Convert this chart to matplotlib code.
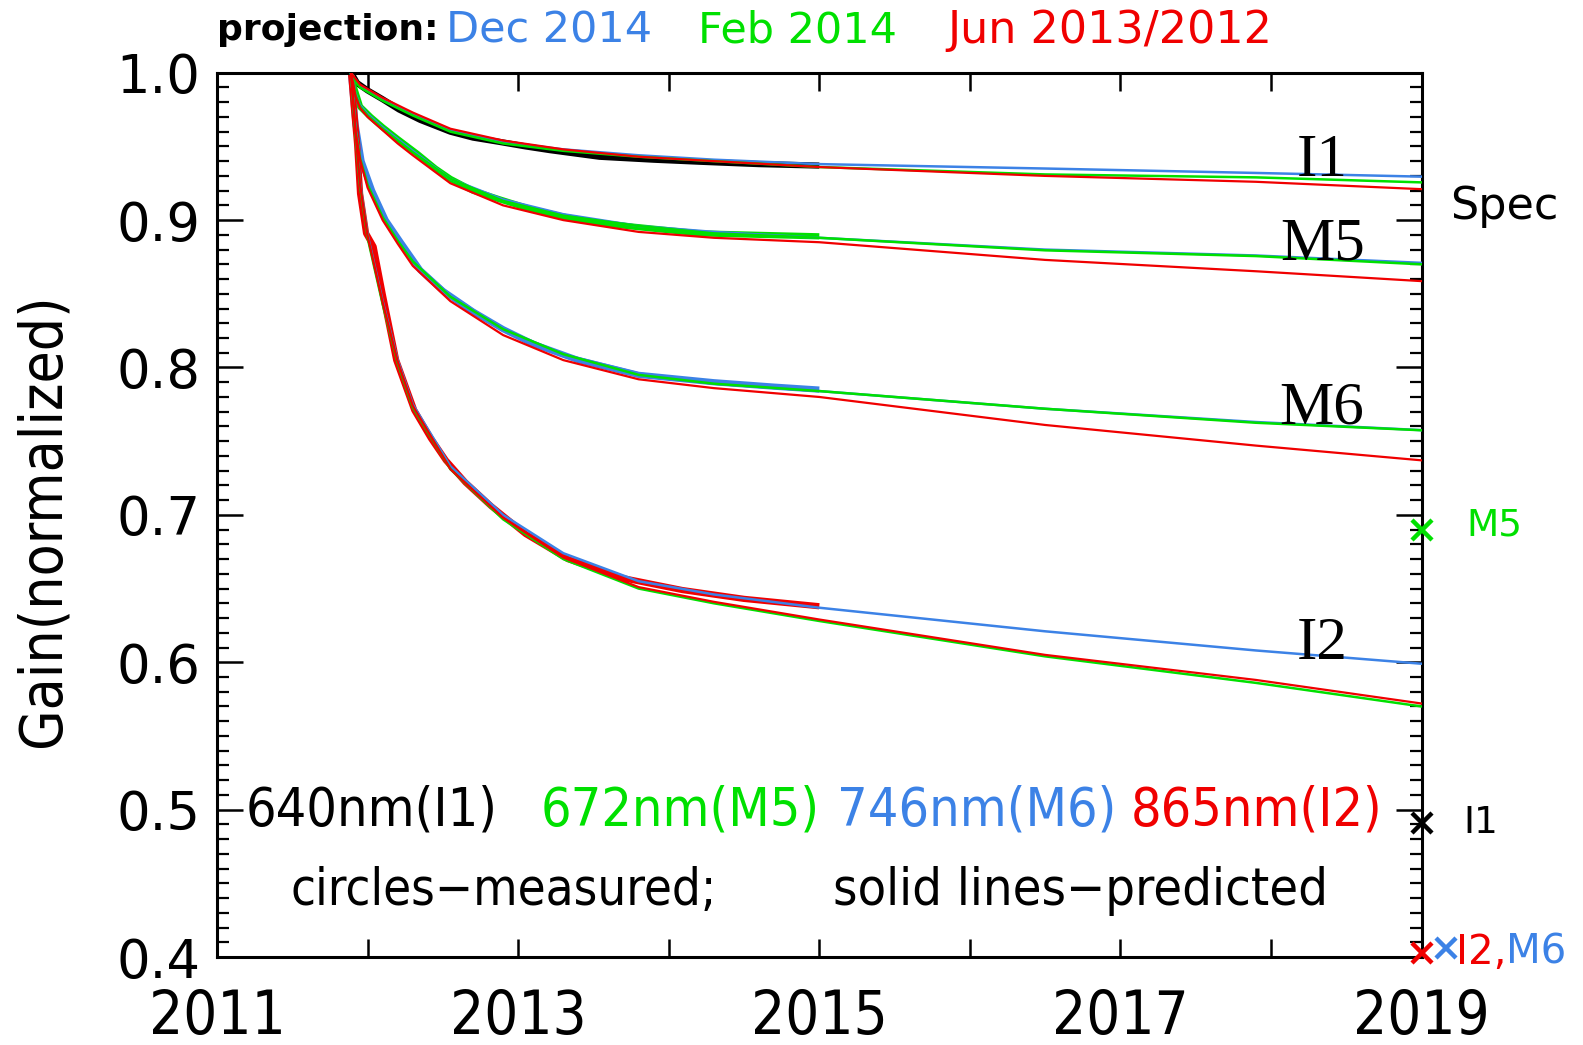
#!/usr/bin/env python3

import matplotlib

matplotlib.use("Agg")
import matplotlib.pyplot as plt
from matplotlib.ticker import MultipleLocator

BLUE = "#3c82e6"
GREEN = "#00e000"
RED = "#f00000"
BLACK = "#000000"

# measured gains (circles), one band at a time
I1_MEAS_YEARS = [2011.89, 2011.93, 2012.0, 2012.1, 2012.21, 2012.35, 2012.55, 2012.7,
                 2012.88, 2013.05, 2013.21, 2013.54, 2013.9, 2014.21, 2014.6, 2015.0]
I1_MEAS = [1.0, 0.993, 0.988, 0.982, 0.975, 0.968, 0.960, 0.956,
           0.953, 0.950, 0.9475, 0.943, 0.941, 0.9396, 0.938, 0.937]

M5_MEAS_YEARS = [2011.89, 2011.91, 2011.95, 2012.02, 2012.1, 2012.2, 2012.33, 2012.45, 2012.55,
                 2012.7, 2012.88, 2013.1, 2013.32, 2013.55, 2013.77, 2014.21, 2014.6, 2015.0]
M5_MEAS = [1.0, 0.990, 0.977, 0.970, 0.963, 0.955, 0.945, 0.935, 0.928,
           0.920, 0.914, 0.907, 0.902, 0.898, 0.8955, 0.891, 0.890, 0.889]

M6_MEAS_YEARS = [2011.89, 2011.92, 2011.96, 2012.03, 2012.12, 2012.22, 2012.35, 2012.5,
                 2012.7, 2012.9, 2013.1, 2013.4, 2013.8, 2014.3, 2014.7, 2015.0]
M6_MEAS = [1.0, 0.965, 0.940, 0.920, 0.900, 0.885, 0.866, 0.852,
           0.838, 0.826, 0.816, 0.805, 0.795, 0.790, 0.787, 0.785]

I2_MEAS_YEARS = [2011.89, 2011.91, 2011.93, 2011.95, 2011.99, 2012.04, 2012.10, 2012.19, 2012.31,
                 2012.42, 2012.52, 2012.65, 2012.82, 2013.05, 2013.33, 2013.7, 2014.09, 2014.5, 2015.0]
I2_MEAS = [1.0, 0.975, 0.952, 0.918, 0.891, 0.882, 0.850, 0.805, 0.771,
           0.752, 0.737, 0.722, 0.706, 0.687, 0.670, 0.657, 0.649, 0.643, 0.638]

# predicted gains for the three projections (Dec 2014, Feb 2014, Jun 2013/2012)
PRED_YEARS = [2011.89, 2011.92, 2011.95, 2012.0, 2012.1, 2012.2, 2012.3, 2012.55,
              2012.9, 2013.3, 2013.8, 2014.3, 2015.0, 2016.5, 2017.9, 2019.0]

I1_BLUE = [1.0, 0.995, 0.991, 0.988, 0.982, 0.977, 0.972, 0.961, 0.953, 0.948, 0.944, 0.941, 0.938, 0.935, 0.932, 0.9295]
I1_GREEN = [1.0, 0.994, 0.990, 0.987, 0.981, 0.976, 0.971, 0.960, 0.952, 0.947, 0.943, 0.940, 0.936, 0.931, 0.929, 0.9256]
I1_RED = [1.0, 0.996, 0.992, 0.989, 0.983, 0.978, 0.973, 0.962, 0.954, 0.948, 0.943, 0.940, 0.936, 0.930, 0.926, 0.921]

M5_BLUE = [1.0, 0.986, 0.978, 0.972, 0.963, 0.955, 0.947, 0.928, 0.914, 0.904, 0.896, 0.892, 0.888, 0.880, 0.876, 0.871]
M5_GREEN = [1.0, 0.985, 0.977, 0.971, 0.962, 0.954, 0.946, 0.928, 0.913, 0.903, 0.896, 0.891, 0.888, 0.8795, 0.8756, 0.870]
M5_RED = [1.0, 0.984, 0.976, 0.970, 0.961, 0.952, 0.944, 0.925, 0.910, 0.900, 0.892, 0.888, 0.885, 0.873, 0.8653, 0.8586]

M6_BLUE = [1.0, 0.962, 0.943, 0.925, 0.903, 0.887, 0.872, 0.849, 0.826, 0.809, 0.796, 0.789, 0.784, 0.772, 0.763, 0.7575]
M6_GREEN = [1.0, 0.961, 0.942, 0.924, 0.902, 0.886, 0.872, 0.848, 0.826, 0.809, 0.795, 0.789, 0.784, 0.772, 0.7625, 0.7574]
M6_RED = [1.0, 0.960, 0.941, 0.922, 0.900, 0.884, 0.869, 0.845, 0.822, 0.805, 0.792, 0.786, 0.780, 0.761, 0.747, 0.737]

I2_BLUE = [1.0, 0.960, 0.925, 0.890, 0.845, 0.805, 0.775, 0.733, 0.700, 0.674, 0.655, 0.646, 0.637, 0.621, 0.608, 0.599]
I2_GREEN = [1.0, 0.958, 0.923, 0.888, 0.843, 0.803, 0.773, 0.731, 0.697, 0.670, 0.650, 0.640, 0.628, 0.604, 0.586, 0.570]
I2_RED = [1.0, 0.959, 0.924, 0.889, 0.844, 0.804, 0.774, 0.731, 0.698, 0.671, 0.651, 0.641, 0.629, 0.605, 0.588, 0.572]

# band names next to the curve ends, and the spec values on the right
BAND_LABELS = ["I1", "M5", "M6", "I2"]
BAND_LABEL_Y = [0.940, 0.883, 0.772, 0.6125]
SPEC_BANDS = ["M5", "I1", "I2", "M6"]
SPEC_VALUES = [0.690, 0.491, 0.403, 0.406]
SPEC_COLORS = [GREEN, BLACK, RED, BLUE]

YEAR_TICKS = list(range(2011, 2020))
YEAR_LABELS = ["2011", "", "2013", "", "2015", "", "2017", "", "2019"]

SANS = ["DejaVu Sans"]
SERIF = ["Liberation Serif", "DejaVu Serif"]


def draw(ax):
    measured = [
        (I1_MEAS_YEARS, I1_MEAS, BLACK),
        (M5_MEAS_YEARS, M5_MEAS, GREEN),
        (M6_MEAS_YEARS, M6_MEAS, BLUE),
        (I2_MEAS_YEARS, I2_MEAS, RED),
    ]
    for years, gain, color in measured:
        ax.plot(years, gain, color=color, lw=4.5, solid_capstyle="butt", zorder=2)

    for blue, green, red in [(I1_BLUE, I1_GREEN, I1_RED), (M5_BLUE, M5_GREEN, M5_RED),
                             (M6_BLUE, M6_GREEN, M6_RED), (I2_BLUE, I2_GREEN, I2_RED)]:
        ax.plot(PRED_YEARS, blue, color=BLUE, lw=1.8, zorder=3)
        ax.plot(PRED_YEARS, green, color=GREEN, lw=1.8, zorder=3)
        ax.plot(PRED_YEARS, red, color=RED, lw=1.6, zorder=4)


def decorate(fig, ax):
    ax.set_xlim(2011, 2019)
    ax.set_ylim(0.4, 1.0)

    ax.set_xticks(YEAR_TICKS)
    ax.set_xticklabels(YEAR_LABELS, family=SANS, fontstretch="condensed", fontsize=43)
    ax.yaxis.set_major_locator(MultipleLocator(0.1))
    ax.yaxis.set_minor_locator(MultipleLocator(0.01))
    ax.set_yticklabels([f"{v:.1f}" for v in ax.get_yticks()], family=SANS, fontsize=38)

    ax.tick_params(axis="x", which="major", direction="in", length=13, width=1.8,
                   top=True, pad=22)
    ax.tick_params(axis="y", which="major", direction="in", length=19, width=1.8,
                   right=True, pad=12)
    ax.tick_params(axis="y", which="minor", direction="in", length=8.5, width=1.6, right=True)
    for spine in ax.spines.values():
        spine.set_linewidth(2.2)

    ax.set_ylabel("Gain(normalized)", family=SANS, fontstretch="condensed", fontsize=42)
    ax.yaxis.set_label_coords(-0.121, 0.494)

    # title line with coloured projection dates
    fig.text(0.137, 0.971, "projection:", family=SANS, fontsize=26, weight="bold",
             color=BLACK, va="center")
    fig.text(0.2815, 0.971, "Dec 2014", family=SANS, fontsize=31, color=BLUE, va="center")
    fig.text(0.441, 0.971, "Feb 2014", family=SANS, fontsize=31, color=GREEN, va="center")
    fig.text(0.5985, 0.971, "Jun 2013/2012", family=SANS, fontsize=32, color=RED, va="center")

    for name, y in zip(BAND_LABELS, BAND_LABEL_Y):
        ax.text(2018.34, y, name, family=SERIF, fontsize=44, ha="center", va="center")

    # wavelength key and notes inside the axes
    key = [(2011.19, "640nm(I1)", BLACK), (2013.15, "672nm(M5)", GREEN),
           (2015.12, "746nm(M6)", BLUE), (2017.07, "865nm(I2)", RED)]
    for x, text, color in key:
        ax.text(x, 0.4993, text, family=SANS, fontstretch="condensed", fontsize=38.5,
                color=color, va="center")
    ax.text(2011.49, 0.4445, "circles\u2212measured;", family=SANS, fontstretch="condensed",
            fontsize=36.5, va="center")
    ax.text(2015.09, 0.4445, "solid lines\u2212predicted", family=SANS, fontstretch="condensed",
            fontsize=37.5, va="center")

    # spec markers on the right axis
    ax.text(2019.55, 0.909, "Spec", family=SANS, fontsize=32, ha="center", va="center")
    spec_x = [2019.0, 2019.0, 2019.0, 2019.16]
    for x, band, value, color in zip(spec_x, SPEC_BANDS, SPEC_VALUES, SPEC_COLORS):
        ax.plot(x, value, marker="x", color=color, ms=14, mew=3.2, clip_on=False, zorder=5)
    ax.text(2019.3, 0.693, "M5", family=SANS, fontsize=27, color=GREEN, va="center")
    ax.text(2019.28, 0.491, "I1", family=SANS, fontsize=27, color=BLACK, va="center")
    ax.text(2019.23, 0.403, "I2,", family=SANS, fontsize=29, color=RED, va="center")
    ax.text(2019.56, 0.403, "M6", family=SANS, fontsize=29, color=BLUE, va="center")


def main() -> None:
    fig = plt.figure(figsize=(15.83, 10.45), dpi=100)
    ax = fig.add_axes([0.1371, 0.0842, 0.898 - 0.1371, 0.9304 - 0.0842])
    draw(ax)
    decorate(fig, ax)
    fig.savefig("out.png", dpi=100)
    plt.close(fig)


if __name__ == "__main__":
    main()
